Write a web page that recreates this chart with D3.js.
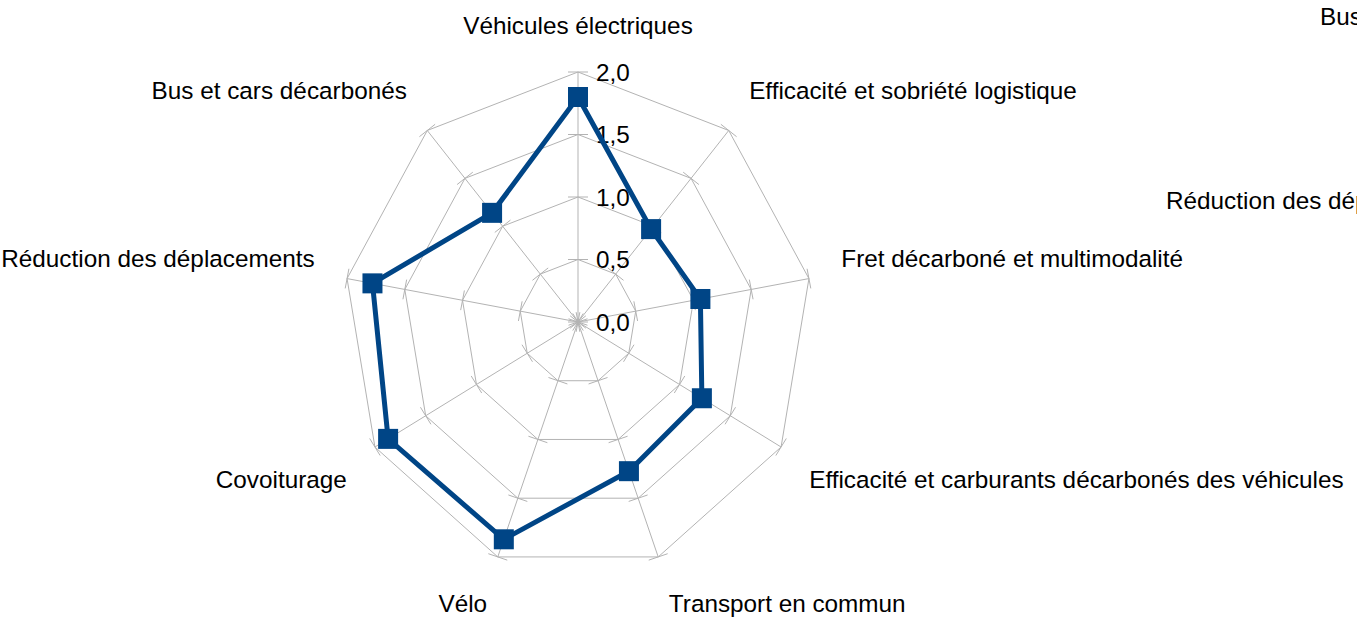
<!DOCTYPE html>
<html>
<head>
<meta charset="utf-8">
<script src="https://cdn.jsdelivr.net/npm/d3@7"></script>
<style>
  body { margin: 0; background: #fff; }
  svg { display: block; font-family: "Liberation Sans", Arial, sans-serif; }
</style>
</head>
<body>
<svg id="chart"></svg>
<script>
var width = 1357, height = 619;

// axes, clockwise from the top
var categories = [
    "Véhicules électriques",
    "Efficacité et sobriété logistique",
    "Fret décarboné et multimodalité",
    "Efficacité et carburants décarbonés des véhicules",
    "Transport en commun",
    "Vélo",
    "Covoiturage",
    "Réduction des déplacements",
    "Bus et cars décarbonés"
];
var values = [1.80, 0.97, 1.06, 1.22, 1.27, 1.85, 1.87, 1.78, 1.14];
var tickValues = [0, 0.5, 1, 1.5, 2];
var tickLabels = ["0,0", "0,5", "1,0", "1,5", "2,0"];

// labels of a neighbouring chart that spill in at the right edge
var strayLabels = ["Bus et cars décarbonés", "Réduction des déplacements"];

var cx = 578, cy = 322;
var lineColor = "#004586", gridColor = "#b3b3b3";
var fontSize = 24.3;

var svg = d3.select("#chart")
    .attr("width", width)
    .attr("height", height);

// the plot is a bit squeezed horizontally
var rx = d3.scaleLinear().domain([0, 2]).range([0, 234.5]);
var ry = d3.scaleLinear().domain([0, 2]).range([0, 250]);
var angle = d3.scaleLinear().domain([0, categories.length]).range([0, 2 * Math.PI]);

function pos(i, v) {
    var a = angle(i);
    return [cx + rx(v) * Math.sin(a), cy - ry(v) * Math.cos(a)];
}
function dir(i) {
    var a = angle(i);
    var dx = rx(2) * Math.sin(a), dy = -ry(2) * Math.cos(a);
    var l = Math.sqrt(dx * dx + dy * dy);
    return [dx / l, dy / l];
}

var idx = d3.range(categories.length);
var grid = svg.append("g").attr("class", "grid")
    .attr("fill", "none")
    .attr("stroke", gridColor)
    .attr("stroke-width", 1);

// rings
grid.selectAll("path.ring")
    .data(tickValues.filter(t => t > 0))
    .enter()
    .append("path")
    .attr("class", "ring")
    .attr("d", t => d3.line().curve(d3.curveLinearClosed)(idx.map(i => pos(i, t))));

// spokes
grid.selectAll("line.spoke")
    .data(idx)
    .enter()
    .append("line")
    .attr("class", "spoke")
    .attr("x1", cx).attr("y1", cy)
    .attr("x2", i => pos(i, 2)[0])
    .attr("y2", i => pos(i, 2)[1]);

// tick marks on every spoke
var ticks = [];
idx.forEach(i => tickValues.forEach(t => ticks.push({i: i, t: t})));
grid.selectAll("line.tick")
    .data(ticks)
    .enter()
    .append("line")
    .attr("class", "tick")
    .each(function(d) {
        var p = pos(d.i, d.t), u = dir(d.i), n = [-u[1], u[0]];
        d3.select(this)
            .attr("x1", p[0] - 10 * n[0]).attr("y1", p[1] - 10 * n[1])
            .attr("x2", p[0] + 10 * n[0]).attr("y2", p[1] + 10 * n[1]);
    });

// value labels on the vertical axis
svg.append("g")
    .selectAll("text")
    .data(tickValues)
    .enter()
    .append("text")
    .attr("x", cx + 18)
    .attr("y", t => cy - ry(t) + 8.5)
    .attr("font-size", fontSize)
    .attr("fill", "#000")
    .text((t, k) => tickLabels[k]);

// series
svg.append("path")
    .datum(values)
    .attr("fill", "none")
    .attr("stroke", lineColor)
    .attr("stroke-width", 5)
    .attr("stroke-linejoin", "miter")
    .attr("d", d3.line().curve(d3.curveLinearClosed)(values.map((v, i) => pos(i, v))));

svg.append("g")
    .selectAll("rect")
    .data(values)
    .enter()
    .append("rect")
    .attr("x", (v, i) => pos(i, v)[0] - 10)
    .attr("y", (v, i) => pos(i, v)[1] - 10)
    .attr("width", 20)
    .attr("height", 20)
    .attr("fill", lineColor);

// category labels
svg.append("g")
    .selectAll("text")
    .data(categories)
    .enter()
    .append("text")
    .attr("font-size", fontSize)
    .attr("fill", "#000")
    .each(function(c, i) {
        var a = angle(i), p = pos(i, 2), u = dir(i);
        var x = p[0] + 33 * u[0], y = p[1] + 33 * u[1];
        var s = Math.sin(a), co = Math.cos(a);
        var anchor = s > 0.01 ? "start" : (s < -0.01 ? "end" : "middle");
        var by = co > 0 ? y - 5.5 : y + 23.5;
        d3.select(this)
            .attr("x", x)
            .attr("y", by)
            .attr("text-anchor", anchor)
            .text(c);
    });

// clipped leftovers at the right edge
svg.append("text")
    .attr("x", 1320).attr("y", 25)
    .attr("font-size", fontSize)
    .text(strayLabels[0]);
svg.append("text")
    .attr("x", 1166).attr("y", 209)
    .attr("font-size", fontSize)
    .text(strayLabels[1]);
</script>
</body>
</html>
